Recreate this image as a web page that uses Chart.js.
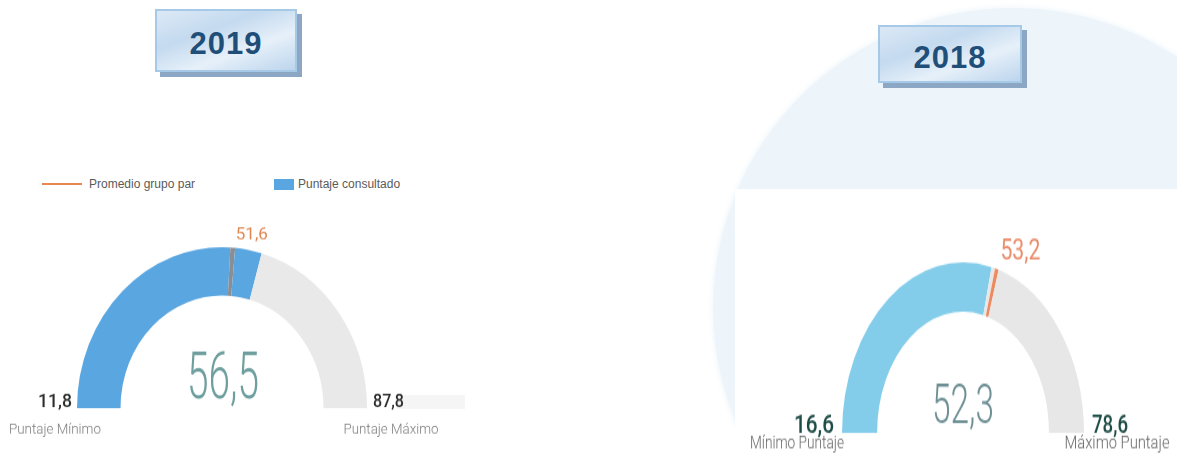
<!DOCTYPE html>
<html>
<head>
<meta charset="utf-8">
<script src="https://cdn.jsdelivr.net/npm/chart.js@4/dist/chart.umd.min.js"></script>
<style>
  html, body { margin: 0; padding: 0; }
  body { width: 1177px; height: 456px; position: relative; overflow: hidden; background: #fff; font-family: "Liberation Sans", Arial, sans-serif; }
  .bgCircle { position: absolute; left: 713px; top: 8px; width: 600px; height: 600px; border-radius: 50%; background: #edf5fb; box-shadow: 0 0 5px 2px #f4f9fc; }
  .whitePanel { position: absolute; left: 735px; top: 189px; width: 442px; height: 267px; background: #fff; }
  .yearBox { position: absolute; box-sizing: border-box; border: 2px solid #a7c9e8; box-shadow: 5px 5px 0 #8ba7c3;
    background: linear-gradient(160deg, #dce9f6 0%, #c4daef 35%, #e6f0f9 65%, #bcd5ed 100%);
    color: #1f4e79; font: bold 31px "Liberation Sans", Arial, sans-serif; letter-spacing: 1px; text-align: center; }
  .legend { position: absolute; top: 176px; font-size: 12px; color: #5a5a5a; height: 16px; line-height: 16px; }
  .strip { position: absolute; left: 397px; top: 395px; width: 68px; height: 14px; background: #f5f5f5; }
  canvas { position: absolute; transform-origin: 0 0; }
</style>
</head>
<body>
<div class="bgCircle"></div>
<div class="whitePanel"></div>
<div class="strip"></div>
<div id="box2019" class="yearBox" style="left:155px; top:9px; width:142px; height:63px; line-height:59px; padding-top:3px;"></div>
<div id="box2018" class="yearBox" style="left:878px; top:25px; width:144px; height:58px; line-height:54px; padding-top:4px;"></div>

<div class="legend" style="left:42px;">
  <span id="legLine" style="position:absolute; left:0; top:7px; width:40px; height:2px; background:#e8874e;"></span>
  <span id="legText1" style="position:absolute; left:47px; white-space:nowrap;"></span>
</div>
<div class="legend" style="left:274px;">
  <span id="legBox" style="position:absolute; left:0; top:3px; width:20px; height:11px; background:#5aa6e0;"></span>
  <span id="legText2" style="position:absolute; left:24px; white-space:nowrap;"></span>
</div>

<canvas id="gauge2019" width="470" height="217" style="left:0px; top:215px; transform:scaleY(1.11);"></canvas>
<canvas id="gauge2018" width="442" height="190" style="left:735px; top:189px; transform:scaleY(1.41); background:#fff;"></canvas>

<script>
// Values
const years = ["2019", "2018"];
const minScores = [11.8, 16.6];
const maxScores = [87.8, 78.6];
const consultedScores = [56.5, 52.3];
const peerAverages = [51.6, 53.2];
const legendLabels = ["Promedio grupo par", "Puntaje consultado"];
const minLabels = ["Puntaje Mínimo", "Mínimo Puntaje"];
const maxLabels = ["Puntaje Máximo", "Máximo Puntaje"];

function fmt(v) {
  return v.toFixed(1).replace(".", ",");
}

// Build doughnut segments: filled part, thin average marker, rest in grey.
function buildSegments(i, hw, blue, marker, grey) {
  const mn = minScores[i], mx = maxScores[i], val = consultedScores[i], avg = peerAverages[i];
  if (avg < val) {
    return {
      data: [avg - mn - hw, 2 * hw, val - avg - hw, mx - val],
      colors: [blue, marker, blue, grey],
      markerIndex: 1
    };
  }
  return {
    data: [val - mn, avg - val - hw, 2 * hw, mx - avg - hw],
    colors: [blue, grey, marker, grey],
    markerIndex: 2
  };
}

// Draw text squeezed/stretched horizontally to a given width
function fitText(ctx, t) {
  ctx.save();
  ctx.font = t.font;
  ctx.fillStyle = t.color;
  ctx.textBaseline = t.baseline || "alphabetic";
  const w = ctx.measureText(t.text).width;
  const sx = t.width ? t.width / w : 1;
  ctx.translate(t.x, t.y);
  ctx.scale(sx, 1);
  ctx.textAlign = t.align || "left";
  ctx.fillText(t.text, 0, 0);
  ctx.restore();
}

const gaugeText = {
  id: "gaugeText",
  afterDatasetsDraw(chart, args, opts) {
    const arcs = chart.getDatasetMeta(0).data;
    const cx = arcs[0].x, cy = arcs[0].y, r = arcs[0].outerRadius;
    const mk = arcs[opts.markerIndex];
    const a = (mk.startAngle + mk.endAngle) / 2;
    const mx = cx + Math.cos(a) * r;
    const my = cy + Math.sin(a) * r;
    const ctx = chart.ctx;
    opts.items(cx, cy, r, mx, my).forEach(t => fitText(ctx, t));
  }
};

function makeGauge(id, i, seg, cutout, pad, items) {
  return new Chart(document.getElementById(id), {
    type: "doughnut",
    data: {
      labels: ["a", "b", "c", "d"],
      datasets: [{
        data: seg.data,
        backgroundColor: seg.colors,
        borderWidth: 0,
        hoverOffset: 0
      }]
    },
    options: {
      responsive: false,
      devicePixelRatio: 1,
      animation: false,
      events: [],
      rotation: -90,
      circumference: 180,
      cutout: cutout,
      layout: { padding: pad },
      plugins: {
        legend: { display: false },
        tooltip: { enabled: false },
        gaugeText: { markerIndex: seg.markerIndex, items: items }
      }
    },
    plugins: [gaugeText]
  });
}

document.getElementById("box2019").textContent = years[0];
document.getElementById("box2018").textContent = years[1];
document.getElementById("legText1").textContent = legendLabels[0];
document.getElementById("legText2").textContent = legendLabels[1];

// 2019 gauge
const seg2019 = buildSegments(0, 0.4, "#5aa6e0", "#8a8e92", "#e9e9e9");
makeGauge("gauge2019", 0, seg2019, "70%", { left: 77, right: 103, top: 29, bottom: 43 },
  (cx, cy, r, mx, my) => [
    { text: fmt(minScores[0]), x: cx - r - 5, y: cy - 1, align: "right", font: "500 17px Roboto", color: "#2b2b2b", width: 34 },
    { text: fmt(maxScores[0]), x: cx + r + 6, y: cy - 1, align: "left", font: "500 17px Roboto", color: "#2b2b2b", width: 31 },
    { text: minLabels[0], x: cx - r - 22, y: cy + 20, align: "center", baseline: "middle", font: "300 12px Roboto", color: "#7d7d7d", width: 92 },
    { text: maxLabels[0], x: cx + r + 24, y: cy + 20, align: "center", baseline: "middle", font: "300 12px Roboto", color: "#7d7d7d", width: 95 },
    { text: fmt(consultedScores[0]), x: cx + 1, y: cy - 9, align: "center", font: "300 59px Roboto", color: "#6f9e9e", width: 72 },
    { text: fmt(peerAverages[0]), x: mx + 3, y: my - 11, align: "left", baseline: "middle", font: "400 15px Roboto", color: "#df8550", width: 32 }
  ]);

// 2018 gauge
const seg2018 = buildSegments(1, 0.3, "#84cdea", "#ee8a60", "#e7e7e7");
makeGauge("gauge2018", 1, seg2018, "71%", { left: 107, right: 93, top: 52, bottom: 17 },
  (cx, cy, r, mx, my) => [
    { text: fmt(minScores[1]), x: cx - r - 8, y: cy - 0.5, align: "right", font: "500 19px Roboto", color: "#1d4b45", width: 40 },
    { text: fmt(maxScores[1]), x: cx + r + 8, y: cy - 0.5, align: "left", font: "500 19px Roboto", color: "#1d4b45", width: 36 },
    { text: minLabels[1], x: cx - r - 45, y: cy + 8.2, align: "center", baseline: "middle", font: "300 12px Roboto", color: "#666", width: 94 },
    { text: maxLabels[1], x: cx + r + 33, y: cy + 8.2, align: "center", baseline: "middle", font: "300 12px Roboto", color: "#666", width: 105 },
    { text: fmt(consultedScores[1]), x: cx, y: cy - 7, align: "center", font: "300 38px Roboto", color: "#6d8f94", width: 62 },
    { text: fmt(peerAverages[1]), x: mx + 3.5, y: my - 12, align: "left", baseline: "middle", font: "400 20px Roboto", color: "#e98d6b", width: 40 }
  ]);
</script>
</body>
</html>
